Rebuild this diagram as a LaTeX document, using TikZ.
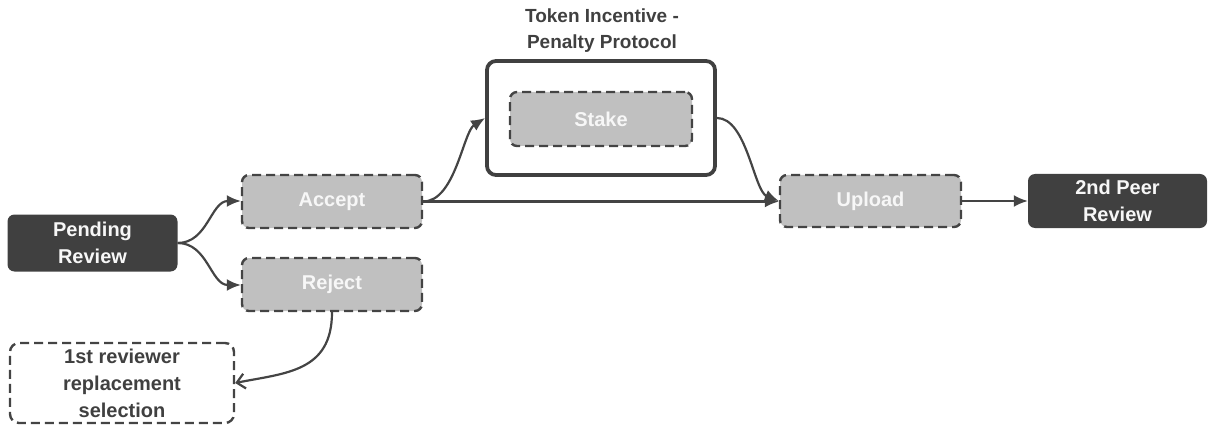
\documentclass[tikz,border=0pt]{standalone}
\usepackage{fontspec}
\setmainfont{Liberation Sans}
\usetikzlibrary{arrows.meta}
\definecolor{ink}{HTML}{404040}
\definecolor{edge}{HTML}{444444}
\definecolor{boxgray}{HTML}{C0C0C0}
\definecolor{paper}{HTML}{F7F7F7}
\begin{document}
\begin{tikzpicture}[x=1pt,y=-1pt,
  every node/.style={font=\bfseries\fontsize{20}{27}\selectfont, align=center, inner sep=0pt},
  darkbox/.style={fill=ink, text=paper, rounded corners=7pt, draw=none},
  stepbox/.style={fill=boxgray, text=paper, draw=edge, line width=2.4pt, dash pattern=on 9pt off 5pt, rounded corners=7pt},
  openbox/.style={fill=white, text=ink, draw=edge, line width=2.4pt, dash pattern=on 9pt off 5pt, rounded corners=9pt},
  groupbox/.style={draw=ink, line width=3.8pt, rounded corners=9pt},
  flow/.style={draw=edge, line width=2.2pt, -{Latex[length=14pt,width=12pt]}},
  openflow/.style={draw=edge, line width=2.2pt, -{Straight Barb[length=8pt,width=15pt,line width=2.2pt]}}
]
\useasboundingbox (0,0) rectangle (1208,425);

% main states
\node[darkbox, minimum width=170pt, minimum height=57pt] (pending) at (92.5,243) {Pending\\Review};
\node[stepbox, minimum width=180pt, minimum height=53pt] (accept) at (332,201.5) {Accept};
\node[stepbox, minimum width=180pt, minimum height=53pt] (reject) at (332,284.5) {Reject};
\node[openbox, minimum width=224pt, minimum height=80pt] (replace) at (122,383) {1st reviewer\\replacement\\selection};

% staking protocol group
\node[groupbox, minimum width=228pt, minimum height=114pt] (protocol) at (601,118) {};
\node[stepbox, minimum width=182pt, minimum height=54pt] (stake) at (601,119) {Stake};
\node[text=ink, font=\bfseries\fontsize{19}{26}\selectfont] (title) at (602,31) {Token Incentive -\\Penalty Protocol};

\node[stepbox, minimum width=181pt, minimum height=52pt] (upload) at (870.5,201) {Upload};
\node[darkbox, minimum width=179pt, minimum height=54pt] (peer) at (1117.5,201) {2nd Peer\\Review};

% connectors
\coordinate (fork) at (pending.east);
\draw[flow] (fork) .. controls +(30,0) and +(-30,0) .. ([yshift=0.5pt]accept.west);
\draw[flow] (fork) .. controls +(30,0) and +(-30,0) .. ([yshift=-0.5pt]reject.west);
\draw[flow] (accept.east) -- (accept.east -| upload.west);
\draw[flow] (accept.east) .. controls +(32,0) and +(-22,14) .. (protocol.west);
\draw[flow] (protocol.east) .. controls +(30,0) and +(-25,-10) .. (upload.west);
\draw[flow] (upload.east) -- (peer.west);
\draw[openflow] (reject.south) .. controls +(0,60) and +(50,-10) .. (replace.east);
\end{tikzpicture}
\end{document}
